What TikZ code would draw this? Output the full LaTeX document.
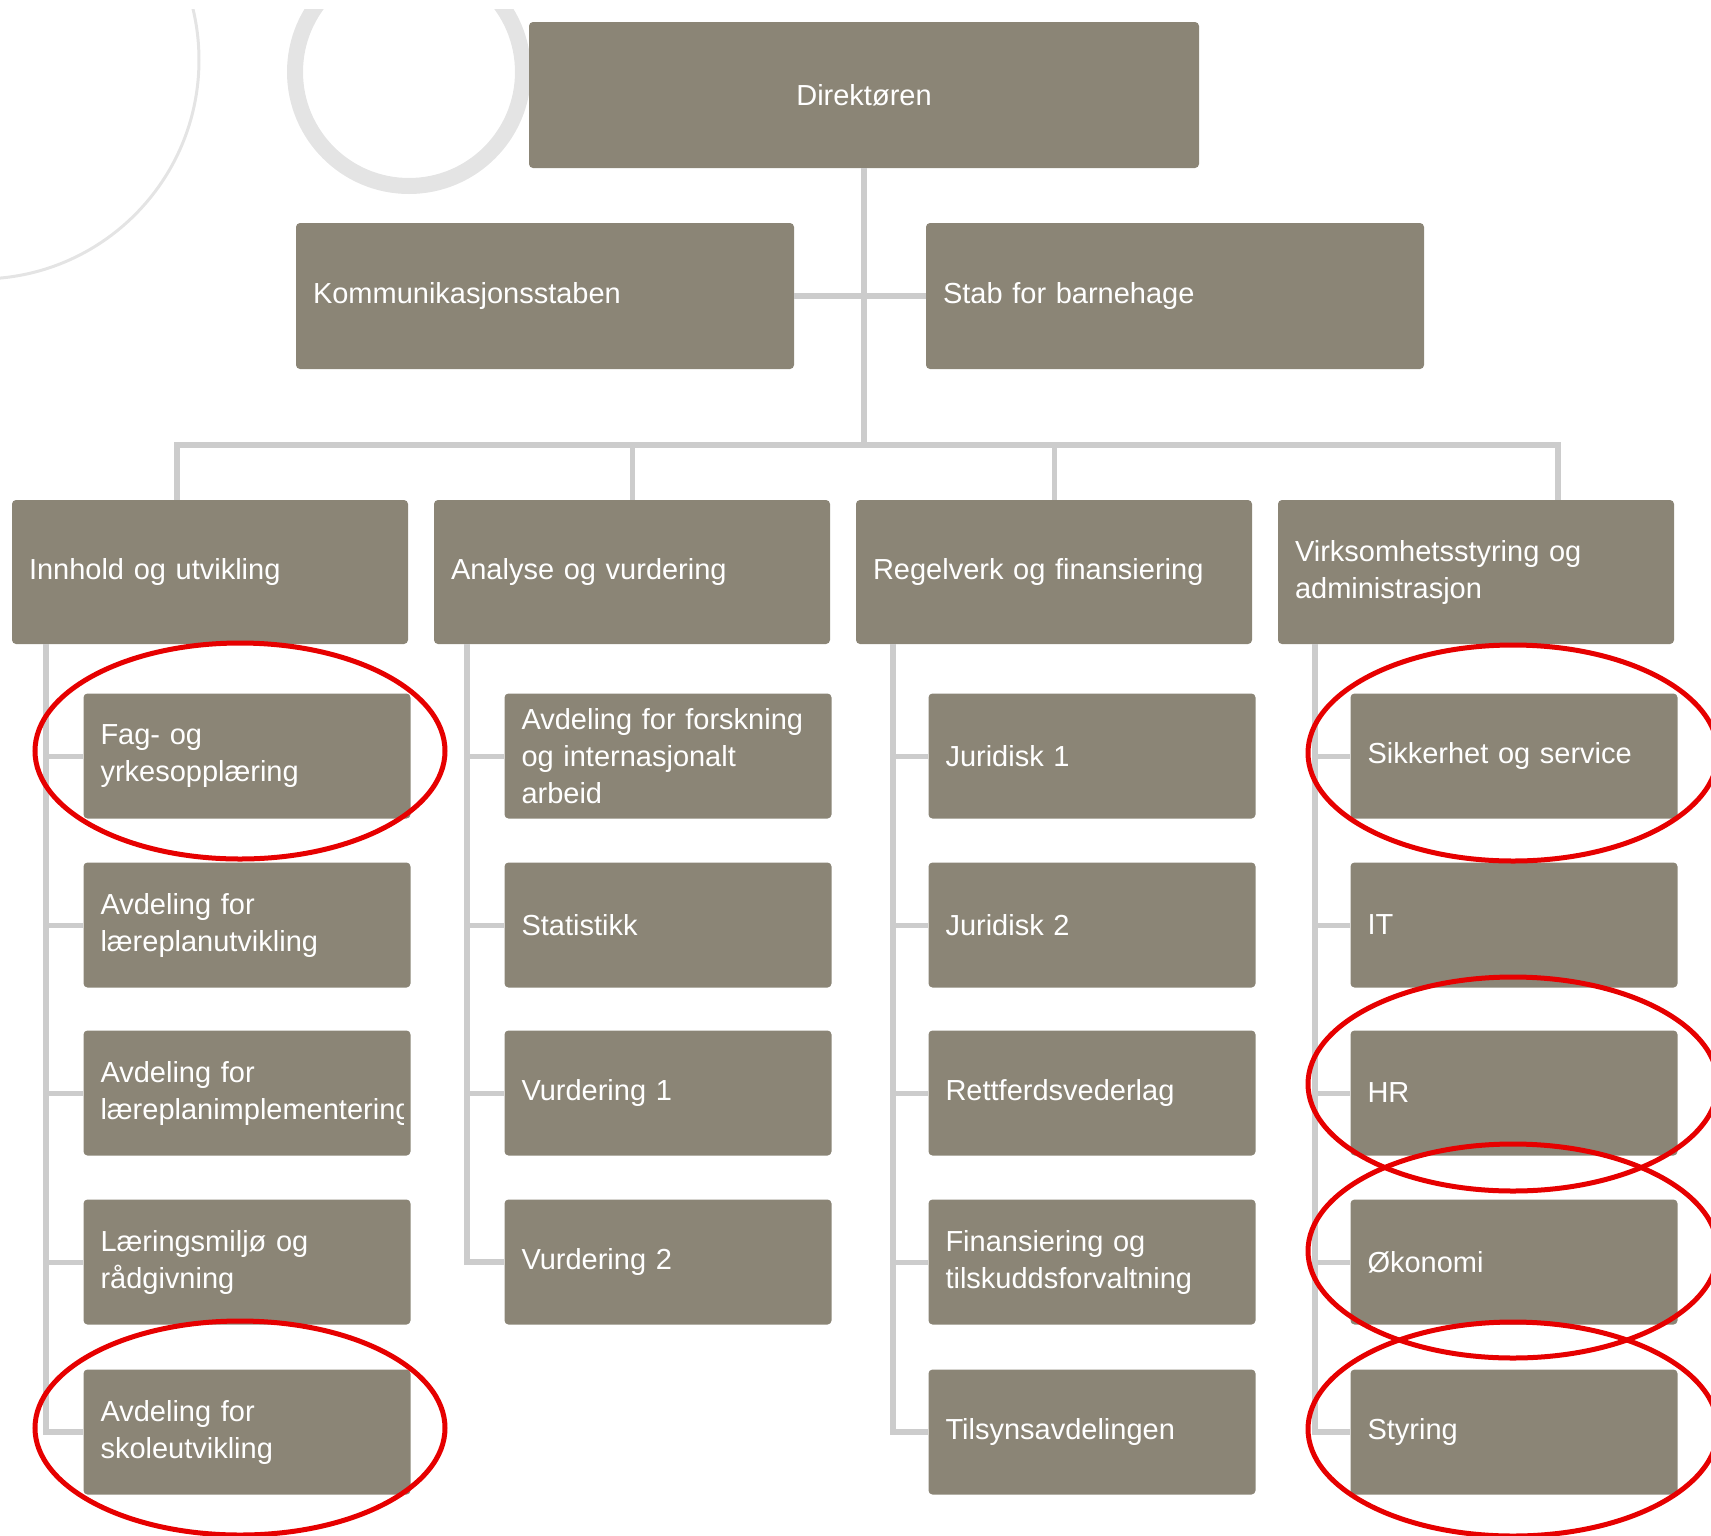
\documentclass[tikz,border=0pt]{standalone}
\usepackage{fontspec}
\setmainfont{Liberation Sans}
\usepackage{tikz}

\definecolor{boxgrey}{HTML}{8B8576}
\definecolor{linegrey}{HTML}{CCCCCC}
\definecolor{ringgrey}{HTML}{E4E4E4}
\definecolor{markred}{HTML}{E60000}

\tikzset{
	orgbox/.style={fill=boxgrey, text=white, rounded corners=4pt, inner xsep=17pt, inner ysep=0pt,
		font={\fontsize{29}{37}\selectfont\hyphenpenalty=10000}, align=left},
	dirbox/.style={orgbox, minimum height=146pt, text width=636pt, align=center},
	staffbox/.style={orgbox, minimum height=146pt, text width=464pt},
	headbox/.style={orgbox, minimum height=144pt, text width=362pt},
	subbox/.style={orgbox, minimum height=125pt, text width=293pt},
	linkline/.style={draw=linegrey, line width=6pt},
	tickline/.style={draw=linegrey, line width=5pt},
	redring/.style={draw=markred, line width=5pt}
}

\begin{document}
\begin{tikzpicture}[x=1pt, y=-1pt]
	\useasboundingbox (0,0) rectangle (1711,1535);
	% grey rings behind
	\begin{scope}
		\clip (0,9) rectangle (1711,1535);
		\draw[ringgrey, line width=3pt] (-20,60) circle [radius=219];
		\draw[ringgrey, line width=16pt] (409,72) circle [radius=114];
	\end{scope}
	% top
	\node[dirbox] (dir) at (864,95) {Direktøren};
	\node[staffbox] (kom) at (545,296) {Kommunikasjonsstaben};
	\node[staffbox] (stab) at (1175,296) {Stab for barnehage};
	% column heads
	\node[headbox] (h1) at (210,572) {Innhold og utvikling};
	\node[headbox] (h2) at (632,572) {Analyse og vurdering};
	\node[headbox] (h3) at (1054,572) {Regelverk og finansiering};
	\node[headbox] (h4) at (1476,572) {Virksomhetsstyring og\\administrasjon};
	% column 1
	\node[subbox] (a1) at (247,756) {Fag- og\\yrkesopplæring};
	\node[subbox] (a2) at (247,925) {Avdeling for\\læreplanutvikling};
	\node[subbox] (a3) at (247,1093) {};
	\begin{scope}
		\clip (a3.south west) rectangle ([xshift=-7pt]a3.north east);
		\node[subbox, fill=none] (a3t) at (a3) {Avdeling for\\læreplanimplementering};
	\end{scope}
	\node[subbox] (a4) at (247,1262) {Læringsmiljø og\\rådgivning};
	\node[subbox] (a5) at (247,1432) {Avdeling for\\skoleutvikling};
	% column 2
	\node[subbox] (b1) at (668,756) {Avdeling for forskning\\og internasjonalt\\arbeid};
	\node[subbox] (b2) at (668,925) {Statistikk};
	\node[subbox] (b3) at (668,1093) {Vurdering 1};
	\node[subbox] (b4) at (668,1262) {Vurdering 2};
	% column 3
	\node[subbox] (c1) at (1092,756) {Juridisk 1};
	\node[subbox] (c2) at (1092,925) {Juridisk 2};
	\node[subbox] (c3) at (1092,1093) {Rettferdsvederlag};
	\node[subbox] (c4) at (1092,1262) {Finansiering og\\tilskuddsforvaltning};
	\node[subbox] (c5) at (1092,1432) {Tilsynsavdelingen};
	% column 4
	\node[subbox] (d1) at (1514,756) {Sikkerhet og service};
	\node[subbox] (d2) at (1514,925) {IT};
	\node[subbox] (d3) at (1514,1093) {HR};
	\node[subbox] (d4) at (1514,1262) {Økonomi};
	\node[subbox] (d5) at (1514,1432) {Styring};

	% lines
	\coordinate (bus) at (864,445);
	\coordinate (busL) at (177,445);
	\coordinate (busR) at (1558,445);
	\coordinate (v1) at (46,644);
	\coordinate (v2) at (467,644);
	\coordinate (v3) at (893,644);
	\coordinate (v4) at (1315,644);
	\draw[linkline] (dir) -- (bus);
	\draw[linkline] (kom) -- (stab);
	\draw[linkline] (busL |- h1.north) -- (busL) -- (busR) -- (busR |- h4.north);
	\draw[tickline] (h2.north |- bus) -- (h2.north);
	\draw[tickline] (h3.north |- bus) -- (h3.north);
	\draw[linkline] (v1) |- (a5);
	\draw[tickline] (v1 |- a1) -- (a1);
	\draw[tickline] (v1 |- a2) -- (a2);
	\draw[tickline] (v1 |- a3) -- (a3);
	\draw[tickline] (v1 |- a4) -- (a4);
	\draw[linkline] (v2) |- (b4);
	\draw[tickline] (v2 |- b1) -- (b1);
	\draw[tickline] (v2 |- b2) -- (b2);
	\draw[tickline] (v2 |- b3) -- (b3);
	\draw[linkline] (v3) |- (c5);
	\draw[tickline] (v3 |- c1) -- (c1);
	\draw[tickline] (v3 |- c2) -- (c2);
	\draw[tickline] (v3 |- c3) -- (c3);
	\draw[tickline] (v3 |- c4) -- (c4);
	\draw[linkline] (v4) |- (d5);
	\draw[tickline] (v4 |- d1) -- (d1);
	\draw[tickline] (v4 |- d2) -- (d2);
	\draw[tickline] (v4 |- d3) -- (d3);
	\draw[tickline] (v4 |- d4) -- (d4);

	% red marks
	\draw[redring] (240,751) ellipse [x radius=205, y radius=108];
	\draw[redring] (240,1428) ellipse [x radius=205, y radius=107];
	\draw[redring] (1513,753) ellipse [x radius=205, y radius=108];
	\draw[redring] (1513,1084) ellipse [x radius=205, y radius=107];
	\draw[redring] (1513,1251) ellipse [x radius=205, y radius=107];
	\draw[redring] (1513,1429) ellipse [x radius=205, y radius=107];
\end{tikzpicture}
\end{document}
